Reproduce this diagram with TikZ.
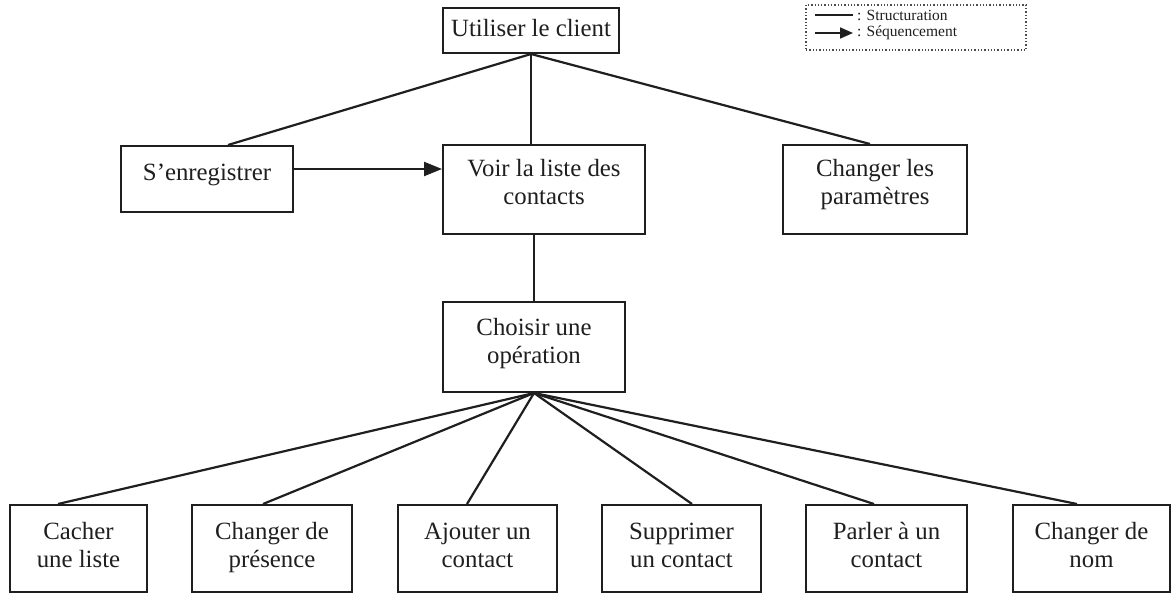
\documentclass[tikz,border=0pt]{standalone}
\usepackage{fontspec}
\setmainfont{Liberation Serif}
\usetikzlibrary{arrows.meta}
% centred block of lines, raised inside its box without changing its size
\newcommand\boxtext[2]{\raisebox{#1}[\height][\depth]{\begin{tabular}{@{}c@{}}#2\end{tabular}}}
\begin{document}
\begin{tikzpicture}[x=1pt,y=-1pt,
  box/.style={draw=black!88, line width=2pt, rectangle, inner sep=0pt,
    font=\fontsize{24.8}{28}\selectfont, text=black!88},
  link/.style={line width=2.2pt, draw=black!88},
  seq/.style={link, -{Triangle[length=18pt,width=14pt]}},
  legline/.style={line width=1.6pt, draw=black!88},
  legtext/.style={anchor=west, inner sep=0pt, text=black!88, font=\fontsize{15.5}{17}\selectfont}
]
\fill[white] (0,0) rectangle (1174,594);
\useasboundingbox (0,0) rectangle (1174,594);

% upper level
\node[box, minimum width=176pt, minimum height=45pt] (top) at (531,30.5) {\boxtext{0pt}{Utiliser le client}};
\node[box, minimum width=172pt, minimum height=66pt] (reg) at (207,179) {\boxtext{4pt}{S’enregistrer}};
\node[box, minimum width=202pt, minimum height=89pt] (voir) at (544,189.5) {\boxtext{5pt}{Voir la liste des\\contacts}};
\node[box, minimum width=184pt, minimum height=89pt] (param) at (875,189.5) {\boxtext{5pt}{Changer les\\paramètres}};
\node[box, minimum width=182pt, minimum height=90pt] (choix) at (534,347) {\boxtext{3pt}{Choisir une\\opération}};

% operations
\node[box, minimum width=137pt, minimum height=87pt] (cacher) at (78.5,548.5) {\boxtext{1pt}{Cacher\\une liste}};
\node[box, minimum width=160pt, minimum height=87pt] (presence) at (272,548.5) {\boxtext{1pt}{Changer de\\présence}};
\node[box, minimum width=159pt, minimum height=87pt] (ajouter) at (477.5,548.5) {\boxtext{1pt}{Ajouter un\\contact}};
\node[box, minimum width=159pt, minimum height=87pt] (supprimer) at (681.5,548.5) {\boxtext{1pt}{Supprimer\\un contact}};
\node[box, minimum width=161pt, minimum height=87pt] (parler) at (886.5,548.5) {\boxtext{1pt}{Parler à un\\contact}};
\node[box, minimum width=157pt, minimum height=87pt] (nom) at (1091.5,548.5) {\boxtext{1pt}{Changer de\\nom}};

% structuring links
\draw[link] (top.south) -- ([xshift=21pt]reg.north);
\draw[link] (top.south) -- (top.south |- voir.north);
\draw[link] (top.south) -- ([xshift=-5pt]param.north);
\draw[link] (choix.north |- voir.south) -- (choix.north);
\draw[link] (choix.south) -- ([xshift=-20.5pt]cacher.north);
\draw[link] (choix.south) -- ([xshift=-9pt]presence.north);
\draw[link] (choix.south) -- ([xshift=-10.5pt]ajouter.north);
\draw[link] (choix.south) -- ([xshift=10.5pt]supprimer.north);
\draw[link] (choix.south) -- ([xshift=-12.5pt]parler.north);
\draw[link] (choix.south) -- ([xshift=-14.5pt]nom.north);

% sequencing link
\draw[seq] ([yshift=10pt]reg.east) -- ([yshift=10pt]reg.east -| voir.west);

% legend
\node[draw=black!70, dotted, line width=1.3pt, minimum width=220pt, minimum height=45pt, inner sep=0pt] (legend) at (916,27.5) {};
\node[legtext] (ls) at (857,15) {: Structuration};
\node[legtext] (lq) at (857,33) {: Séquencement};
\coordinate (ls0) at (815,15);
\coordinate (lq0) at (815,33);
\draw[legline] (ls0) -- ([xshift=-4pt]ls.west);
\draw[legline, -{Triangle[length=13pt,width=11pt]}] (lq0) -- ([xshift=-4pt]lq.west);
\end{tikzpicture}
\end{document}
